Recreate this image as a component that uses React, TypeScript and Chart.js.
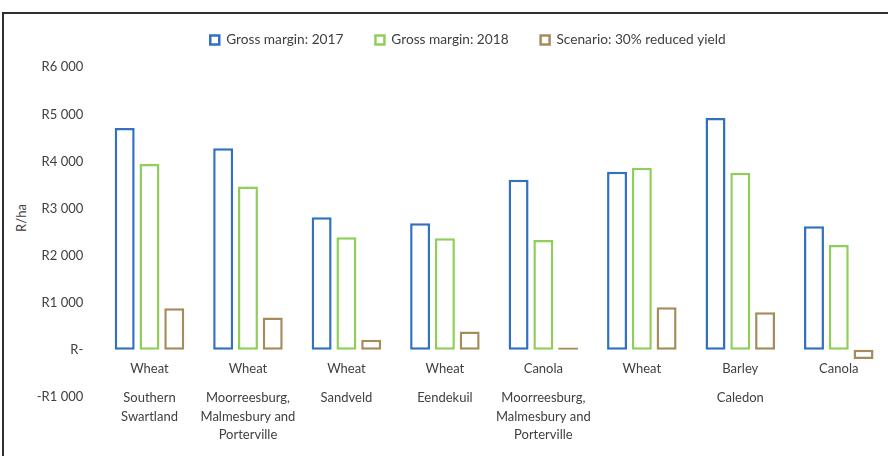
import React, { useEffect, useRef } from "react";
import { Chart, registerables } from "chart.js";

Chart.register(...registerables);

const crops = ["Wheat", "Wheat", "Wheat", "Wheat", "Canola", "Wheat", "Barley", "Canola"];
const regions = [
  ["Southern", "Swartland"],
  ["Moorreesburg,", "Malmesbury and", "Porterville"],
  ["Sandveld"],
  ["Eendekuil"],
  ["Moorreesburg,", "Malmesbury and", "Porterville"],
  [""],
  ["Caledon"],
  [""],
];
const seriesNames = ["Gross margin: 2017", "Gross margin: 2018", "Scenario: 30% reduced yield"];
const gm2017 = [4710, 4280, 2815, 2687, 3610, 3780, 4925, 2623];
const gm2018 = [3945, 3469, 2388, 2367, 2330, 3866, 3759, 2224];
const scenario = [881, 682, 210, 384, 43, 902, 795, -198];
const yTickValues = [-1000, 0, 1000, 2000, 3000, 4000, 5000, 6000];
const yTickLabels = ["-R1 000", "R-", "R1 000", "R2 000", "R3 000", "R4 000", "R5 000", "R6 000"];
const yTitle = "R/ha";

const colors = ["#3271c2", "#8fcf59", "#a58c5c"];
const textColor = "#404040";
const fontFamily = "Lato, 'Open Sans', sans-serif";

const legendShift = {
  id: "legendShift",
  afterLayout(chart: any) {
    const lg = chart.legend;
    if (!lg) return;
    lg.left = 48;
    lg.right = 888;
    lg.top = 1.15;
    lg.bottom = lg.top + lg.height;
  },
};

export default function App() {
  const ref = useRef<HTMLCanvasElement | null>(null);

  useEffect(() => {
    if (!ref.current) return;
    const series = [gm2017, gm2018, scenario];
    const chart = new Chart(ref.current, {
      type: "bar",
      data: {
        labels: crops,
        datasets: series.map((d, i) => ({
          label: seriesNames[i],
          data: d,
          backgroundColor: "#ffffff",
          borderColor: colors[i],
          borderWidth: 2.5,
          borderSkipped: false,
          barPercentage: 0.806,
          categoryPercentage: 0.755,
        })),
      },
      options: {
        animation: false,
        responsive: false,
        devicePixelRatio: 1,
        layout: { padding: { top: 11.6, left: 0, right: 0, bottom: 0 } },
        plugins: {
          tooltip: { enabled: false },
          legend: {
            position: "top",
            labels: {
              boxWidth: 9,
              boxHeight: 9,
              padding: 32,
              color: textColor,
              font: { family: fontFamily, size: 13.7 },
            },
          },
        },
        scales: {
          x: {
            type: "category",
            position: "bottom",
            weight: 0,
            grid: { display: false, drawTicks: false },
            border: { display: false },
            ticks: {
              mirror: true,
              padding: 19.6,
              color: textColor,
              font: { family: fontFamily, size: 13 },
              maxRotation: 0,
              autoSkip: false,
            },
            afterFit: (s: any) => {
              s.height = 0;
            },
          },
          x2: {
            type: "category",
            position: "bottom",
            labels: regions as any,
            offset: true,
            weight: 1,
            grid: { display: false, drawTicks: false },
            border: { display: false },
            ticks: {
              mirror: true,
              padding: -10.85,
              color: textColor,
              font: { family: fontFamily, size: 13, lineHeight: 18.5 / 13 },
              maxRotation: 0,
              autoSkip: false,
            },
            afterFit: (s: any) => {
              s.height = 59.3;
            },
          },
          y: {
            min: -1000,
            max: 6000,
            grid: { display: false, drawTicks: false },
            border: { display: false },
            ticks: {
              stepSize: 1000,
              padding: 17,
              color: textColor,
              font: { family: fontFamily, size: 13 },
              callback: (value: any) => {
                const i = yTickValues.indexOf(Number(value));
                return i >= 0 ? yTickLabels[i] : "";
              },
            },
            afterFit: (s: any) => {
              s.width = 100.25;
            },
          },
        },
      },
      plugins: [legendShift],
    });
    return () => chart.destroy();
  }, []);

  return (
    <div
      style={{
        position: "fixed",
        left: 0,
        top: 0,
        width: 888,
        height: 456,
        background: "#ffffff",
        overflow: "hidden",
      }}
    >
      <div
        style={{
          position: "absolute",
          left: 2,
          top: 12,
          width: 886,
          height: 444,
          borderTop: "2px solid #2e2e2e",
          borderLeft: "2px solid #2e2e2e",
          boxSizing: "border-box",
        }}
      />
      <div
        style={{
          position: "absolute",
          left: 21,
          top: 218,
          transform: "translate(-50%, -50%) rotate(-90deg)",
          font: `13px ${fontFamily}`,
          color: textColor,
          whiteSpace: "nowrap",
        }}
      >
        {yTitle}
      </div>
      <canvas
        ref={ref}
        width={888}
        height={456}
        style={{ position: "absolute", left: 0, top: 0, width: 888, height: 456 }}
      />
    </div>
  );
}
